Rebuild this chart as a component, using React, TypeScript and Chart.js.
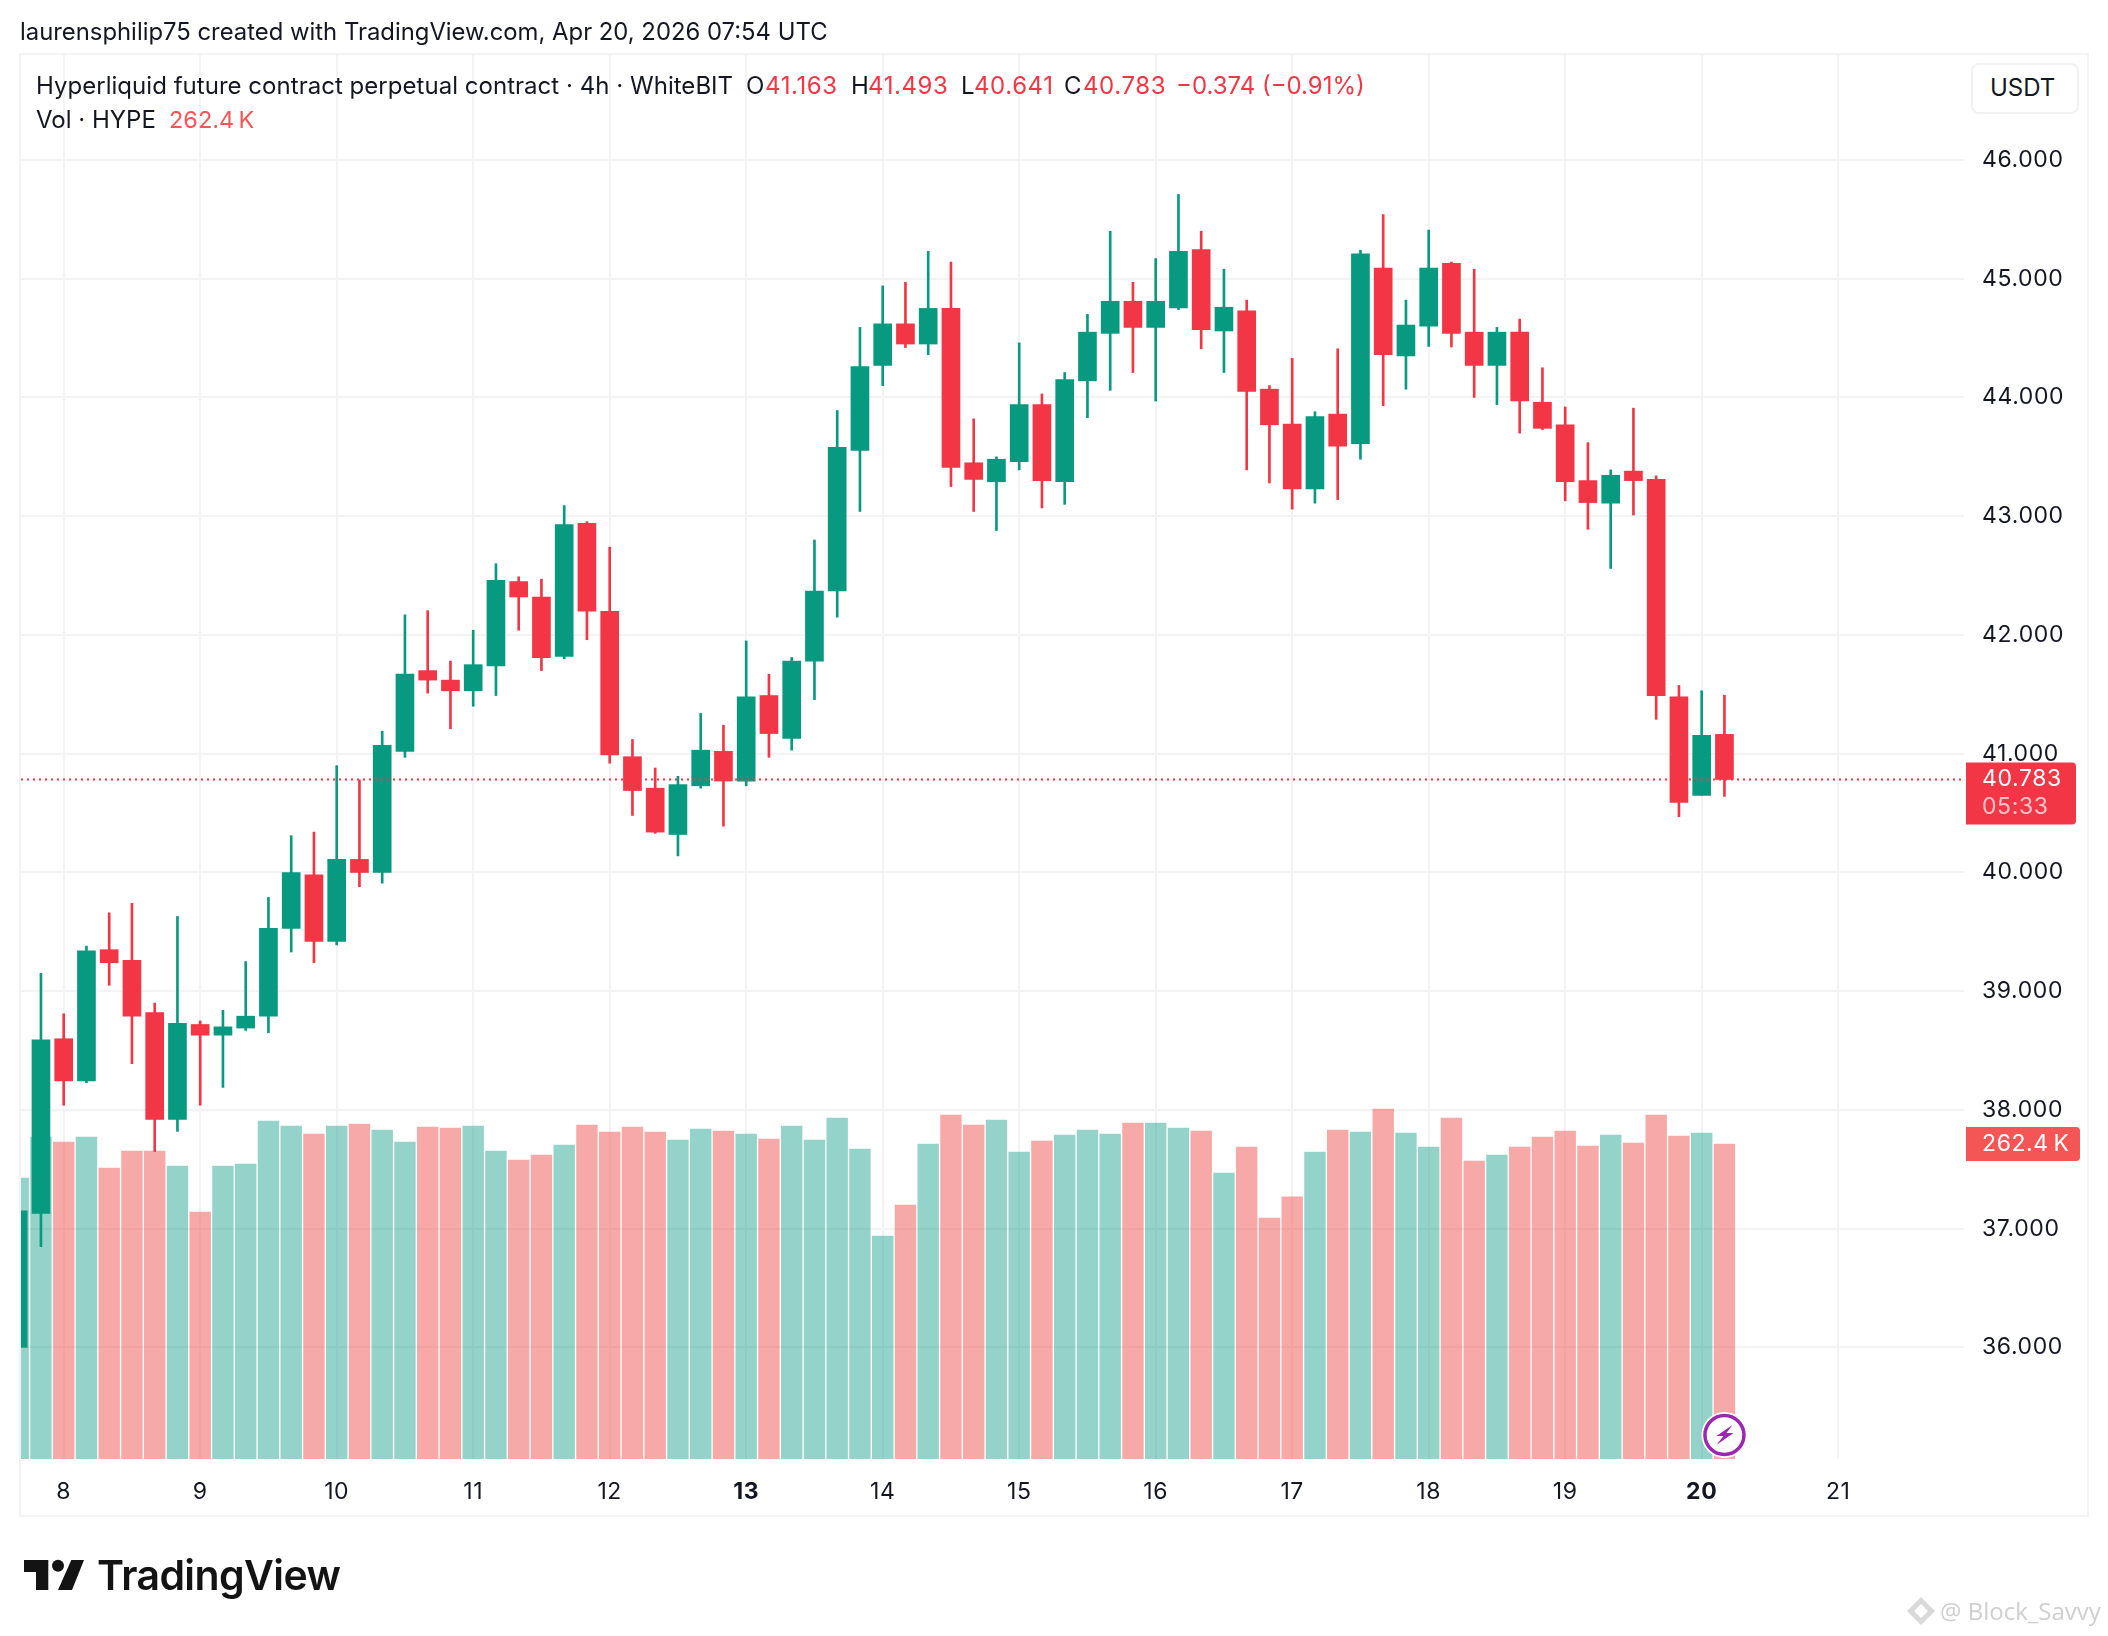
import { useEffect, useRef } from "react";
import { Chart, registerables } from "chart.js";

Chart.register(...registerables);

const opens = [36.0, 37.13, 38.6, 38.245, 39.35, 39.26, 38.82, 37.92, 38.72, 38.63, 38.69, 38.79, 39.53, 39.98, 39.42, 40.11, 40.0, 41.02, 41.7, 41.62, 41.53, 41.74, 42.45, 42.32, 41.82, 42.94, 42.2, 40.975, 40.71, 40.32, 40.73, 41.02, 40.77, 41.49, 41.13, 41.78, 42.37, 43.555, 44.27, 44.62, 44.45, 44.75, 43.45, 43.29, 43.46, 43.94, 43.29, 44.14, 44.54, 44.81, 44.59, 44.755, 45.245, 44.56, 44.73, 44.07, 43.775, 43.23, 43.86, 43.61, 45.09, 44.35, 44.6, 45.13, 44.55, 44.27, 44.55, 43.96, 43.77, 43.3, 43.11, 43.38, 43.31, 41.48, 40.65, 41.163];
const highs = [37.15, 39.15, 38.81, 39.38, 39.66, 39.74, 38.9, 39.63, 38.75, 38.84, 39.25, 39.79, 40.31, 40.34, 40.9, 40.78, 41.19, 42.17, 42.205, 41.78, 42.04, 42.6, 42.49, 42.47, 43.09, 42.955, 42.74, 41.12, 40.88, 40.81, 41.34, 41.24, 41.95, 41.67, 41.81, 42.8, 43.89, 44.59, 44.94, 44.97, 45.23, 45.14, 43.82, 43.5, 44.46, 44.03, 44.21, 44.7, 45.4, 44.97, 45.17, 45.71, 45.4, 45.08, 44.82, 44.1, 44.33, 43.88, 44.41, 45.24, 45.54, 44.82, 45.41, 45.14, 45.08, 44.59, 44.66, 44.25, 43.92, 43.62, 43.39, 43.91, 43.34, 41.575, 41.53, 41.493];
const lows = [36.0, 36.85, 38.04, 38.23, 39.05, 38.39, 37.65, 37.82, 38.04, 38.19, 38.67, 38.65, 39.33, 39.24, 39.39, 39.88, 39.91, 40.97, 41.51, 41.21, 41.4, 41.49, 42.04, 41.7, 41.8, 41.96, 40.92, 40.48, 40.33, 40.14, 40.71, 40.39, 40.73, 40.97, 41.03, 41.455, 42.15, 43.04, 44.1, 44.42, 44.36, 43.25, 43.04, 42.88, 43.39, 43.07, 43.1, 43.83, 44.06, 44.21, 43.97, 44.74, 44.41, 44.21, 43.39, 43.28, 43.06, 43.11, 43.14, 43.48, 43.93, 44.07, 44.43, 44.425, 44.0, 43.94, 43.7, 43.73, 43.13, 42.89, 42.56, 43.01, 41.29, 40.47, 40.65, 40.641];
const closes = [37.15, 38.59, 38.245, 39.34, 39.24, 38.79, 37.92, 38.73, 38.63, 38.7, 38.79, 39.53, 40.0, 39.42, 40.11, 40.0, 41.07, 41.67, 41.62, 41.53, 41.75, 42.46, 42.32, 41.81, 42.93, 42.2, 40.99, 40.69, 40.34, 40.74, 41.03, 40.77, 41.48, 41.17, 41.78, 42.37, 43.58, 44.26, 44.62, 44.45, 44.75, 43.41, 43.31, 43.48, 43.94, 43.3, 44.15, 44.55, 44.81, 44.59, 44.81, 45.23, 44.57, 44.76, 44.05, 43.77, 43.23, 43.84, 43.59, 45.21, 44.36, 44.61, 45.09, 44.54, 44.27, 44.55, 43.97, 43.74, 43.29, 43.115, 43.345, 43.3, 41.49, 40.59, 41.155, 40.783];
const volumes = [234.1, 268.2, 264.1, 268.2, 242.4, 256.6, 256.6, 244.1, 205.8, 244.1, 245.7, 281.6, 277.4, 270.7, 277.4, 279.1, 274.1, 264.1, 276.6, 275.7, 277.4, 256.6, 249.1, 253.2, 261.6, 278.2, 272.4, 276.6, 272.4, 265.7, 274.9, 273.2, 270.7, 266.6, 277.4, 265.7, 284.1, 258.2, 185.8, 211.6, 262.4, 286.6, 278.2, 282.4, 255.7, 264.9, 269.9, 274.1, 270.7, 279.9, 279.9, 275.7, 273.2, 238.2, 259.9, 200.8, 218.3, 255.7, 274.1, 272.4, 291.6, 271.6, 259.9, 284.1, 248.2, 253.2, 259.9, 268.2, 273.2, 260.7, 269.9, 263.2, 286.6, 269.1, 271.6, 262.4];

const dayLabels = ["8", "9", "10", "11", "12", "13", "14", "15", "16", "17", "18", "19", "20", "21"];
const boldDays = ["13", "20"];
const priceTicks = [36, 37, 38, 39, 40, 41, 42, 43, 44, 45, 46];

const lastClose = 40.783;
const lastVolume = 262.4;
const countdown = "05:33";

const UP = "#089981";
const DOWN = "#f23645";
const UP_VOL = "rgba(8,153,129,0.43)";
const DOWN_VOL = "rgba(239,83,80,0.5)";
const GRID = "#f3f3f3";
const INK = "#131722";
const FONT = "Inter";

// 4h bars, six per day; the first two bars belong to the 7th
const slots = opens.map((_, i) => i - 2);
const barsPerDay = 6;
const xMin = -1.877;
const xMax = 83.53;

const isUp = (i: number) => closes[i] >= opens[i];

const tagsPlugin = {
  id: "tags",
  beforeDraw(chart: any) {
    // price axis digits are tracked out a little in the reference
    chart.ctx.letterSpacing = "0.6px";
  },
  afterDraw(chart: any) {
    const { ctx } = chart;
    const y = chart.scales.y.getPixelForValue(lastClose);
    const yv = chart.scales.yVol.getPixelForValue(lastVolume);
    ctx.save();
    ctx.textBaseline = "middle";
    ctx.textAlign = "left";
    ctx.font = `23px ${FONT}`;

    ctx.fillStyle = DOWN;
    ctx.beginPath();
    ctx.roundRect(1966, y - 17, 110, 62, [0, 4, 4, 0]);
    ctx.fill();
    ctx.fillStyle = "#ffffff";
    ctx.fillText(lastClose.toFixed(3), 1982, y);
    ctx.fillStyle = "rgba(255,255,255,0.7)";
    ctx.fillText(countdown, 1982, y + 28);

    ctx.fillStyle = "#f45656";
    ctx.beginPath();
    ctx.roundRect(1966, yv - 17, 114, 34, [0, 4, 4, 0]);
    ctx.fill();
    ctx.fillStyle = "#ffffff";
    ctx.fillText(`${lastVolume.toFixed(1)}\u2009K`, 1982, yv);

    // replay marker on the last bar
    const mx = chart.scales.x.getPixelForValue(slots[slots.length - 1]);
    const my = 1435;
    ctx.fillStyle = "#ffffff";
    ctx.beginPath();
    ctx.arc(mx, my, 23, 0, Math.PI * 2);
    ctx.fill();
    ctx.strokeStyle = "#9c27b0";
    ctx.lineWidth = 3.5;
    ctx.beginPath();
    ctx.arc(mx, my, 19.5, 0, Math.PI * 2);
    ctx.stroke();
    ctx.fillStyle = "#9c27b0";
    ctx.beginPath();
    ctx.moveTo(mx + 8, my - 10);
    ctx.lineTo(mx - 8, my + 1);
    ctx.lineTo(mx - 1, my + 1);
    ctx.lineTo(mx - 8, my + 10);
    ctx.lineTo(mx + 9, my - 2);
    ctx.lineTo(mx + 2, my - 2);
    ctx.closePath();
    ctx.fill();
    ctx.restore();
  },
};

function Txt(props: { x: number; y: number; size?: number; color?: string; weight?: number; font?: string; spacing?: number; children: any }) {
  const size = props.size ?? 24;
  return (
    <div
      style={{
        position: "absolute",
        left: props.x,
        top: props.y - size / 2,
        fontFamily: props.font ?? FONT,
        fontSize: size,
        lineHeight: `${size}px`,
        fontWeight: props.weight ?? 400,
        color: props.color ?? INK,
        letterSpacing: props.spacing ?? 0,
        whiteSpace: "pre",
      }}
    >
      {props.children}
    </div>
  );
}

export default function App() {
  const ref = useRef<HTMLCanvasElement | null>(null);

  useEffect(() => {
    if (!ref.current) return;
    const chart = new Chart(ref.current, {
      type: "bar",
      data: {
        datasets: [
          {
            type: "line",
            data: [
              { x: xMin, y: lastClose },
              { x: xMax, y: lastClose },
            ],
            borderColor: DOWN,
            borderWidth: 2,
            borderDash: [2, 4],
            pointRadius: 0,
            yAxisID: "y",
            order: 1,
          },
          {
            data: slots.map((x, i) => ({ x, y: [opens[i], closes[i]] })),
            backgroundColor: slots.map((_, i) => (isUp(i) ? UP : DOWN)),
            maxBarThickness: 18,
            barThickness: 18,
            grouped: false,
            yAxisID: "y",
            order: 2,
          },
          {
            data: slots.map((x, i) => ({ x, y: [lows[i], highs[i]] })),
            backgroundColor: slots.map((_, i) => (isUp(i) ? UP : DOWN)),
            maxBarThickness: 2,
            barThickness: 2,
            grouped: false,
            yAxisID: "y",
            order: 3,
          },
          {
            data: slots.map((x, i) => ({ x, y: volumes[i] })),
            backgroundColor: slots.map((_, i) => (isUp(i) ? UP_VOL : DOWN_VOL)),
            maxBarThickness: 20.75,
            barThickness: 20.75,
            grouped: false,
            yAxisID: "yVol",
            order: 4,
          },
        ] as any,
      },
      options: {
        responsive: false,
        animation: false,
        devicePixelRatio: 1,
        layout: { padding: { left: 21, top: 55, right: 21, bottom: 121 } },
        plugins: { legend: { display: false }, tooltip: { enabled: false } },
        scales: {
          x: {
            type: "linear",
            min: xMin,
            max: xMax,
            offset: false,
            afterFit: (s: any) => { s.height = 56; },
            afterBuildTicks: (s: any) => {
              s.ticks = dayLabels.map((_, i) => ({ value: i * barsPerDay }));
            },
            grid: { color: GRID, lineWidth: 2, offset: false, drawTicks: false },
            border: { display: false },
            ticks: {
              autoSkip: false,
              maxRotation: 0,
              padding: 19,
              color: INK,
              font: (c: any) => {
                const label = dayLabels[Math.round(c.tick?.value / barsPerDay)];
                return { family: FONT, size: 23, weight: boldDays.includes(label) ? 700 : 400 };
              },
              callback: (v: any) => dayLabels[Math.round(Number(v) / barsPerDay)],
            },
          },
          y: {
            position: "right",
            min: 35.061,
            max: 46.884,
            afterFit: (s: any) => { s.width = 123; },
            afterBuildTicks: (s: any) => {
              s.ticks = priceTicks.map((value) => ({ value }));
            },
            grid: { color: GRID, lineWidth: 2, drawTicks: false },
            border: { display: false },
            ticks: {
              padding: 18,
              crossAlign: "near",
              color: INK,
              font: { family: FONT, size: 23 },
              callback: (v: any) => Number(v).toFixed(3),
            },
          },
          yVol: {
            display: false,
            min: 0,
            max: 1169.6,
          },
        },
      } as any,
      plugins: [tagsPlugin],
    });
    return () => chart.destroy();
  }, []);

  return (
    <div style={{ position: "absolute", left: 0, top: 0, width: 2108, height: 1636, background: "#fff", overflow: "hidden" }}>
      <div style={{ position: "absolute", left: 19, top: 53, width: 2070, height: 1464, border: `2px solid ${GRID}`, boxSizing: "border-box" }} />
      <canvas ref={ref} width={2108} height={1636} style={{ position: "absolute", left: 0, top: 0, display: "block" }} />

      <Txt x={20} y={32} size={23.85}>laurensphilip75 created with TradingView.com, Apr 20, 2026 07:54 UTC</Txt>

      <Txt x={36} y={86} spacing={0.03}>Hyperliquid future contract perpetual contract · 4h · WhiteBIT</Txt>
      <Txt x={746} y={86}>O</Txt>
      <Txt x={765} y={86} color={DOWN} spacing={0.6}>41.163</Txt>
      <Txt x={851} y={86}>H</Txt>
      <Txt x={868} y={86} color={DOWN} spacing={0.6}>41.493</Txt>
      <Txt x={961} y={86}>L</Txt>
      <Txt x={974} y={86} color={DOWN} spacing={0.6}>40.641</Txt>
      <Txt x={1064} y={86}>C</Txt>
      <Txt x={1083} y={86} color={DOWN} spacing={0.6}>40.783</Txt>
      <Txt x={1176} y={86} color={DOWN}>−0.374 (−0.91%)</Txt>
      <Txt x={36} y={120}>Vol · HYPE</Txt>
      <Txt x={169} y={120} size={23.5} color="#f45656">{"262.4\u2009K"}</Txt>

      <div style={{ position: "absolute", left: 1971, top: 63, width: 108, height: 51, border: "2px solid #f0f1f3", borderRadius: 8, boxSizing: "border-box", background: "#fff" }} />
      <Txt x={1990} y={88}>USDT</Txt>

      <svg width={2108} height={1636} style={{ position: "absolute", left: 0, top: 0, pointerEvents: "none" }}>
        <path d="M24 1560H48.3V1590H36V1572H24Z M71.3 1560H84L72 1590H58Z" fill="#131313" />
        <circle cx={58} cy={1565.7} r={6} fill="#131313" />
        <path d="M1921 1597L1935 1611L1921 1625L1907 1611Z M1921 1604L1928 1611L1921 1618L1914 1611Z" fill="#d9d9d9" fillRule="evenodd" />
      </svg>
      <Txt x={97} y={1575} size={41} weight={600} color="#131313" spacing={-0.6}>TradingView</Txt>
      <Txt x={1940} y={1611} size={24} font="Open Sans" color="#cfcfcf">@ Block_Savvy</Txt>
    </div>
  );
}
